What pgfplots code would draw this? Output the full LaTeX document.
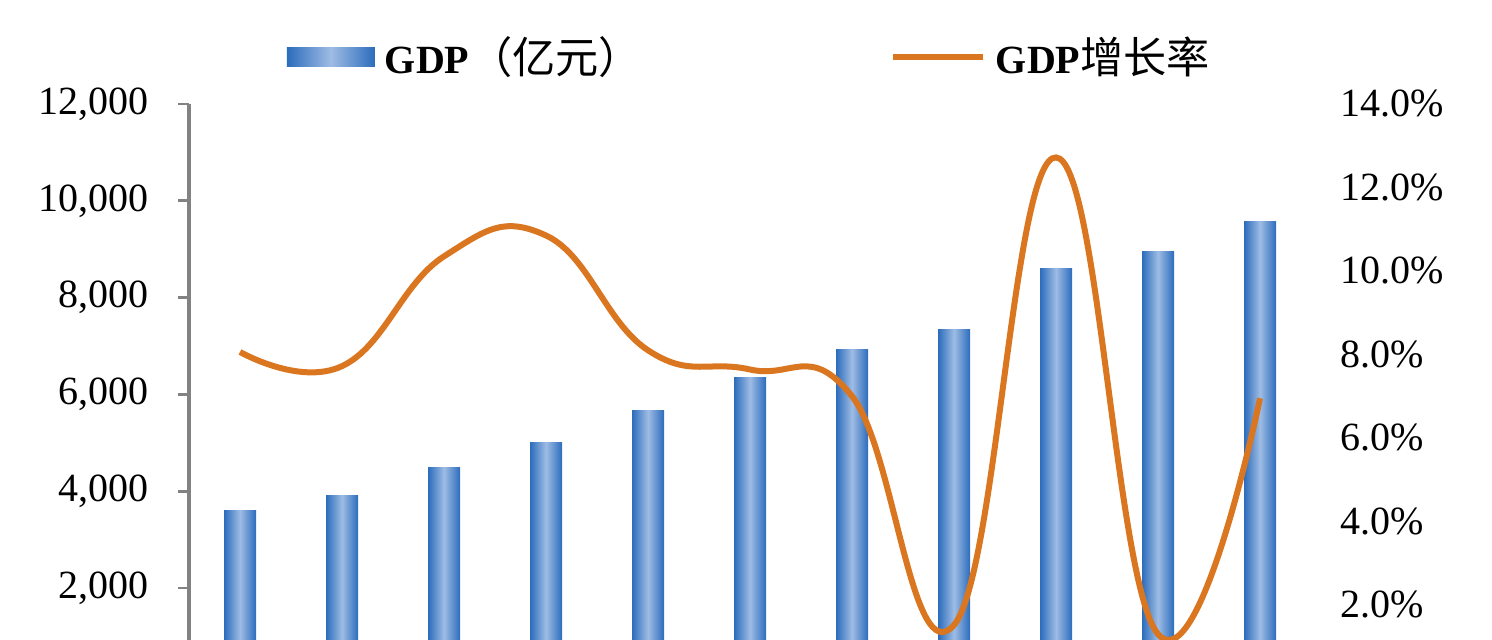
\documentclass[border=0pt]{standalone}
\usepackage{fontspec}
\setmainfont{Liberation Serif}
\newfontfamily\cjk{Noto Sans CJK SC}[Scale=1.08]
\usepackage{pgfplots}
\pgfplotsset{compat=1.18}
\usepackage{pgfplotstable}

\definecolor{bdark}{RGB}{44,108,188}
\definecolor{blight}{RGB}{158,188,228}
\definecolor{lineor}{RGB}{218,118,32}
\definecolor{axgray}{RGB}{130,130,130}

% GDP (100 million yuan) and growth rate (%)
\pgfplotstableread{
idx gdp   rate
0   3610  8.06
1   3910  7.72
2   4480  10.35
3   5000  10.85
4   5660  8.10
5   6340  7.64
6   6920  7.00
7   7350  1.52
8   8600  12.72
9   8960  1.30
10  9580  6.95
}\gdpdata

\begin{document}
\begin{tikzpicture}
\pgfplotsset{
  every axis/.append style={
    scale only axis,
    width=561pt, height=268pt,
    at={(94.5pt,0pt)}, anchor=south west,
    xmin=-0.5, xmax=10.5,
    axis x line=none,
    tick label style={font=\fontsize{20}{24}\selectfont},
    /pgf/number format/assume math mode=true,
  },
  barshade/.style={draw=none, left color=bdark, right color=bdark, middle color=blight},
}
% left axis: GDP bars
\begin{axis}[
  ymin=926, ymax=12000,
  axis y line*=left,
  y axis line style={draw=axgray, line width=1.6pt},
  ytick={2000,4000,...,12000},
  tick align=outside,
  major tick length=5.5pt,
  major tick style={draw=axgray, line width=1.4pt},
  scaled y ticks=false,
  yticklabel style={xshift=-11pt},
  /pgf/number format/1000 sep={,},
  ybar, bar width=16pt, bar shift=0pt,
]
% one plot per bar so that each bar gets its own shading
\pgfplotsinvokeforeach{0,...,10}{
  \addplot[barshade, restrict x to domain=#1:#1]
    table[x=idx, y=gdp] {\gdpdata};
}
\end{axis}

% right axis: growth rate line
\begin{axis}[
  ymin=1.16, ymax=14,
  axis y line*=right,
  y axis line style={draw=none},
  ytick={2,4,...,14},
  major tick length=0pt,
  yticklabel={\pgfmathprintnumber[fixed,fixed zerofill,precision=1]{\tick}\%},
  yticklabel style={xshift=11pt},
  legend columns=2,
  legend cell align=left,
  legend style={
    at={(0.0873,1.0877)}, anchor=west,
    draw=none, fill=none, inner sep=0pt, outer sep=0pt,
    nodes={inner sep=0pt, font=\fontsize{20}{24}\selectfont},
  },
]
\addlegendimage{legend image code/.code={
  \shade[draw=none, left color=bdark, right color=bdark, middle color=blight]
    (0pt,-4.75pt) rectangle (44pt,4.75pt);}}
\addlegendentry{\hspace*{5pt}\makebox[252.5pt][l]{\textbf{GDP}{\cjk （亿元）}}}
\addplot[lineor, line width=3pt, smooth, tension=0.75,
  legend image code/.code={\draw[lineor, line width=3pt] (0pt,0pt) -- (45pt,0pt);}]
  table[x=idx, y=rate] {\gdpdata};
\addlegendentry{\hspace*{5pt}\textbf{GDP}{\cjk 增长率}}
\end{axis}
\pgfresetboundingbox
\useasboundingbox (0,0) rectangle (746pt,320pt);
\end{tikzpicture}
\end{document}
